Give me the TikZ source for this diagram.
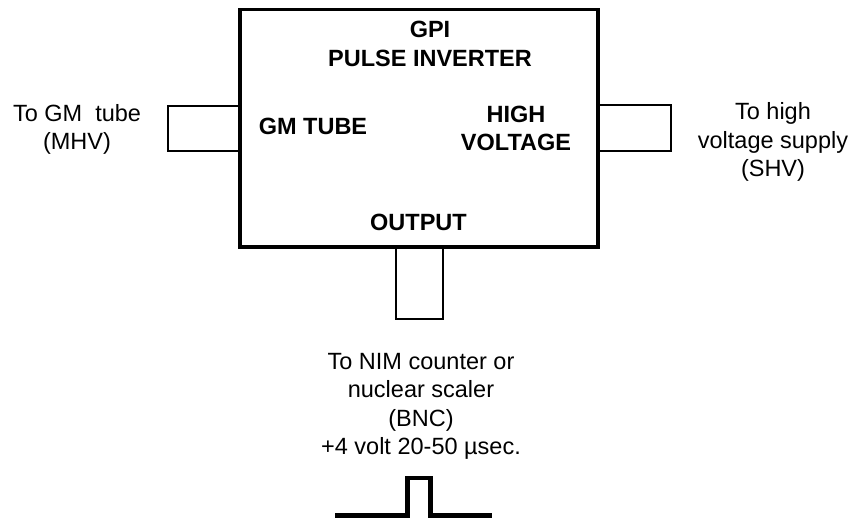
\documentclass[tikz,border=0pt]{standalone}
\usepackage{fontspec}
\setmainfont{Liberation Sans}
\usepackage{tikz}

\begin{document}
\begin{tikzpicture}[x=1pt, y=-1pt]

    %--- Base styles
    \tikzstyle{box node}=[draw, line width=3.5pt, inner sep=0pt, minimum width=358pt, minimum height=237.5pt]
    \tikzstyle{jack node}=[draw, line width=2.6pt, inner sep=0pt]
    \tikzstyle{note}=[inner sep=0pt, anchor=base, align=center, font=\fontsize{23.5}{28.5}\selectfont]
    \tikzstyle{tag}=[note, font=\fontsize{23.5}{28.5}\selectfont\bfseries]

    \useasboundingbox (0,0) rectangle (852,518);

    %--- Connectors (behind the box)
    \node[jack node, minimum width=72pt, minimum height=45pt]  (jackL) at (204,128.5) {};
    \node[jack node, minimum width=73pt, minimum height=46pt]  (jackR) at (634.5,128) {};
    \node[jack node, minimum width=47pt, minimum height=72pt]  (jackB) at (419.5,283) {};

    %--- Pulse inverter box
    \node[box node, fill=none] (gpi) at (419,128.5) {};

    %--- Texts inside the box (placed at the baseline of the last line)
    \node[tag] (title)  at (430,66.5)  {GPI\\PULSE INVERTER};
    \node[tag] (gmin)   at (313,135)   {GM TUBE};
    \node[tag] (hvin)   at (516,151)   {HIGH\\VOLTAGE};
    \node[tag] (outin)  at (418.5,231) {OUTPUT};

    %--- Texts outside
    \node[note] (gmtext)  at (77,150)  {To GM~ tube\\(MHV)};
    \node[note] (hvtext)  at (773,177) {To high\\voltage supply\\(SHV)};
    \node[note] (outtext) at (421,455) {To NIM counter or\\nuclear scaler\\(BNC)\\+4 volt 20-50 µsec.};

    %--- Output pulse
    \draw[line width=4.5pt] (335,515.5) -- (407.5,515.5) -- (407.5,478) -- (430.5,478) -- (430.5,515.5) -- (492,515.5);

\end{tikzpicture}
\end{document}
